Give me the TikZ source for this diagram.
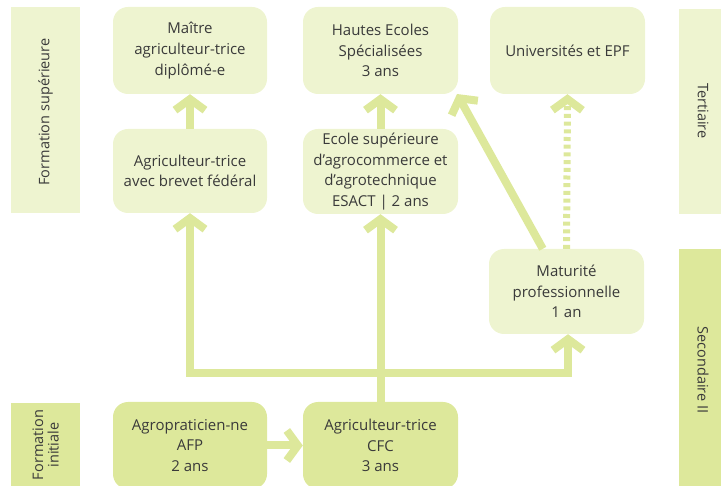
\documentclass[tikz,border=0pt]{standalone}
\usepackage{fontspec}
\setmainfont{Open Sans}
\usetikzlibrary{arrows.meta,calc}
\definecolor{lightg}{HTML}{EEF4D0}
\definecolor{darkg}{HTML}{DDE89B}
\definecolor{txt}{HTML}{3A3A3A}
\begin{document}
\begin{tikzpicture}[x=1pt,y=-1pt,
  box/.style={fill=lightg, rounded corners=15, align=center, text=txt, inner sep=0,
    font=\fontsize{15}{20.7}\selectfont},
  dbox/.style={box, fill=darkg},
  lab/.style={fill=lightg, inner sep=0},
  dlab/.style={lab, fill=darkg},
  labtext/.style={text=txt, align=center, font=\fontsize{14.5}{17}\selectfont},
  arr/.style={draw=darkg, line width=8, -{Straight Barb[length=11, width=30]}},
  darr/.style={draw=darkg, line width=7, dash pattern=on 4 off 3.7, -{Straight Barb[length=11, width=30, line width=8]}}
]
\useasboundingbox (0,0) rectangle (721,486);
% side labels
\node[lab, minimum width=69, minimum height=206] (sup) at (45.5,110) {};
\node[labtext, rotate=90] (supt) at (45.5,112) {Formation supérieure};
\node[dlab, minimum width=69, minimum height=87] (ini) at (45.5,446.5) {};
\node[labtext, rotate=90, font=\fontsize{14.5}{15.5}\selectfont] (init) at (45.5,445) {Formation\\initiale};
\node[lab, minimum width=46, minimum height=205] (ter) at (702,111.5) {};
\node[labtext, rotate=-90] (tert) at (703,111) {Tertiaire};
\node[dlab, minimum width=46, minimum height=241] (sec) at (702,369.5) {};
\node[labtext, rotate=-90] (sect) at (703,370) {Secondaire II};
% boxes
\node[box, minimum width=154, minimum height=87] (maitre) at (190,50.5) {Maître\\agriculteur-trice\\diplômé-e};
\node[box, minimum width=154, minimum height=84] (brevet) at (190,171) {Agriculteur-trice\\avec brevet fédéral};
\node[box, minimum width=155, minimum height=87] (hes) at (380.5,50.5) {Hautes Ecoles\\Spécialisées\\3 ans};
\node[box, minimum width=155, minimum height=87] (uni) at (567.5,50.5) {Universités et EPF};
\node[box, minimum width=155, minimum height=85] (ecole) at (380.5,171.5) {Ecole supérieure\\d’agrocommerce et\\d’agrotechnique\\ESACT | 2 ans};
\node[box, minimum width=155, minimum height=85] (matu) at (566.5,291.5) {Maturité\\professionnelle\\1 an};
\node[dbox, minimum width=154, minimum height=87] (agro) at (190,445.5) {Agropraticien-ne\\AFP\\2 ans};
\node[dbox, minimum width=155, minimum height=87] (cfc) at (380.5,445.5) {Agriculteur-trice\\CFC\\3 ans};
% connectors
\coordinate (j1) at (190,373);
\coordinate (j2) at (568,373);
\coordinate (dstart) at ($(matu.north west)+(54,0)$);
\coordinate (dend) at (457,94);
\draw[arr] (brevet.north) -- (maitre.south);
\draw[arr] (ecole.north) -- (hes.south);
\draw[arr] (cfc.north) -- (ecole.south);
\draw[arr] (agro.east) -- (cfc.west);
\draw[arr, {Straight Barb[length=11, width=30]}-{Straight Barb[length=11, width=30]}, line join=miter]
  (brevet.south) -- (j1) -- (j2) -- (matu.south -| j2);
\draw[arr] (dstart) -- (dend);
\draw[darr] (matu.north) -- (uni.south);
\end{tikzpicture}
\end{document}
